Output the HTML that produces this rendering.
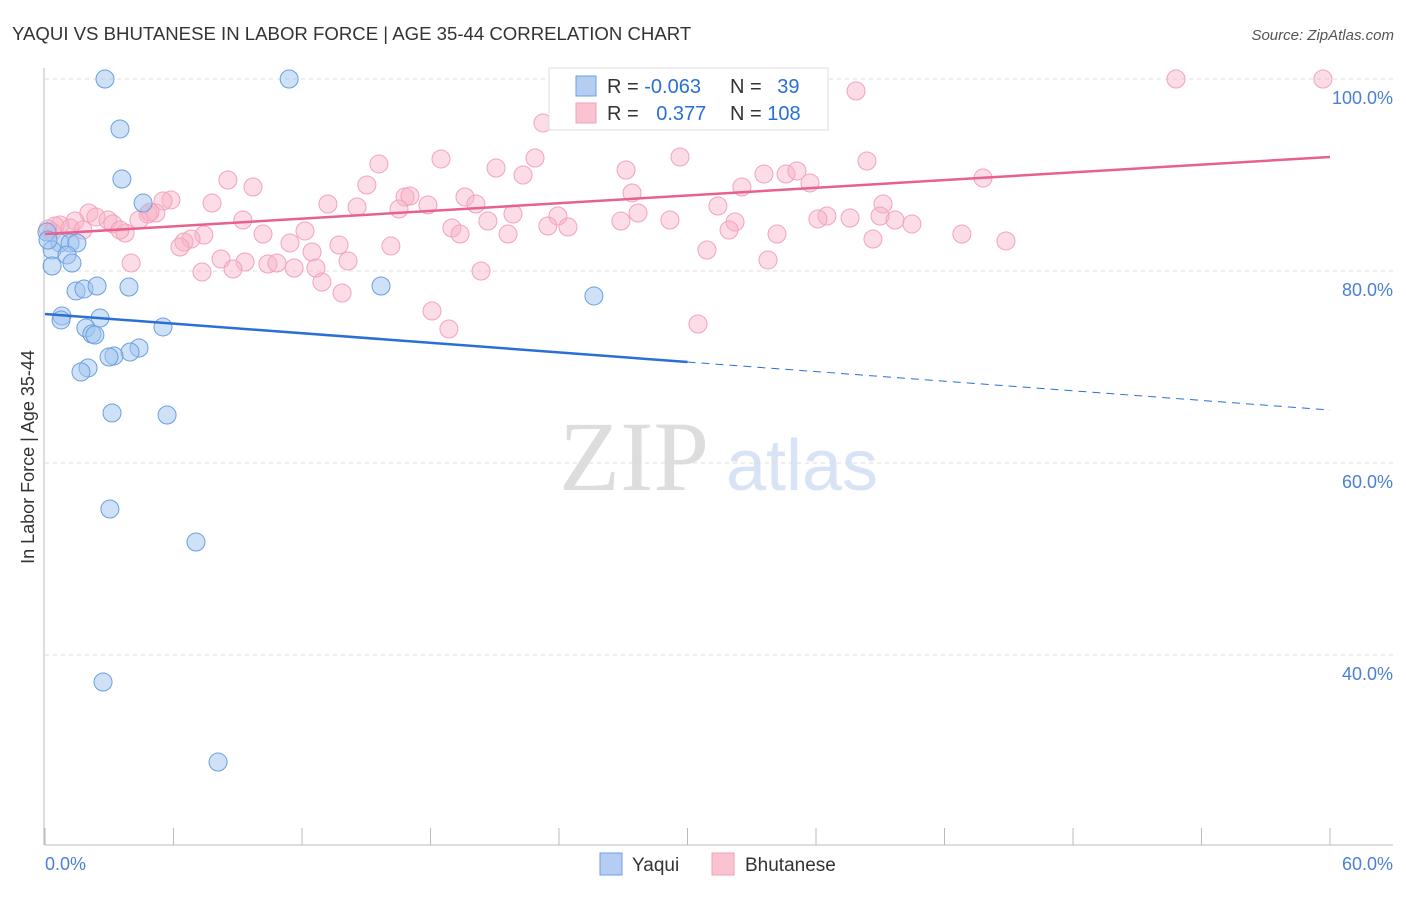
<!DOCTYPE html>
<html><head><meta charset="utf-8"><style>
body{margin:0;background:#fff;font-family:"Liberation Sans",sans-serif;}
</style></head><body>
<svg id="chart" width="1406" height="892" xmlns="http://www.w3.org/2000/svg" font-family="Liberation Sans, sans-serif">
<text x="12" y="40" font-size="18.6" fill="#333">YAQUI VS BHUTANESE IN LABOR FORCE | AGE 35-44 CORRELATION CHART</text>
<text x="1394" y="40" font-size="15" fill="#555" font-style="italic" text-anchor="end">Source: ZipAtlas.com</text>
<text x="34" y="457" font-size="18" fill="#333" text-anchor="middle" transform="rotate(-90 34 457)">In Labor Force | Age 35-44</text>
<text x="634" y="490" font-size="100" fill="#ddd" text-anchor="middle" style="font-family:'Liberation Serif',serif">ZIP</text>
<text x="802" y="490" font-size="72" fill="#d8e4f5" text-anchor="middle">atlas</text>
<g id="grid"></g><g id="axes"></g><g id="pts"></g><g id="trends"></g>
<g>
<rect x="549" y="68" width="279" height="62" fill="#fff" stroke="#ddd"/>
<rect x="576" y="76" width="20" height="20" fill="#b5cdf3" stroke="#6a9fe0"/>
<rect x="576" y="103" width="20" height="20" fill="#f9c3d2" stroke="#f0a0b8"/>
<text x="607" y="93" font-size="20" fill="#333">R = <tspan fill="#2a6fd6">-0.063</tspan></text>
<text x="730" y="93" font-size="20" fill="#333">N = <tspan fill="#2a6fd6" dx="10">39</tspan></text>
<text x="607" y="120" font-size="20" fill="#333">R = <tspan fill="#2a6fd6" dx="12">0.377</tspan></text>
<text x="730" y="120" font-size="20" fill="#333">N = <tspan fill="#2a6fd6">108</tspan></text>
</g>
<g>
<rect x="600" y="853" width="22" height="22" fill="#b5cdf3" stroke="#6a9fe0"/>
<text x="632" y="871" font-size="19" fill="#333">Yaqui</text>
<rect x="712" y="853" width="22" height="22" fill="#f9c3d2" stroke="#f0a0b8"/>
<text x="745" y="871" font-size="19" fill="#333">Bhutanese</text>
</g>
</svg>
<script>
const yaquiX=[2.80,11.40,3.50,3.59,4.58,0.09,0.70,1.17,1.49,0.33,1.03,1.26,0.33,1.45,1.82,2.43,3.92,0.79,0.75,2.57,5.51,1.91,2.19,2.33,4.39,3.97,3.22,2.99,2.01,1.68,3.13,5.70,3.03,7.05,2.71,8.08,15.69,25.63,0.14];
const yaquiY=[100,100,94.79,89.58,87.08,84.06,82.92,82.92,82.92,82.19,81.67,80.83,80.52,77.92,78.13,78.44,78.33,75.31,74.90,75.10,74.17,74.06,73.44,73.33,71.98,71.56,71.15,71.04,69.90,69.48,65.21,65.00,55.21,51.77,37.19,28.85,78.44,77.40,83.23];
const bhutX=[52.81,59.67,37.87,23.25,25.35,18.49,15.59,22.88,29.65,38.38,21.06,27.13,22.32,33.57,34.60,35.11,43.80,35.72,8.54,9.71,15.03,32.54,27.41,16.81,17.04,19.61,5.88,5.51,7.80,13.21,14.57,17.88,16.53,20.12,27.69,31.42,39.13,2.05,2.38,1.40,2.94,4.81,5.18,21.85,23.95,4.39,9.24,20.68,29.18,36.51,37.59,38.99,36.09,39.69,40.48,32.22,26.89,23.48,24.42,0.70,1.17,0.47,0.33,3.17,3.74,19.00,19.38,21.62,12.14,10.18,7.42,31.94,34.18,38.66,42.81,44.87,6.82,6.49,6.30,11.44,13.73,12.47,16.15,30.91,8.22,9.34,10.41,10.83,14.15,33.76,4.02,7.33,8.78,11.63,12.65,20.36,12.93,13.87,18.07,18.86,30.49,1.77,3.50,4.90,0.14];
const bhutY=[100,100,98.75,95.42,99.90,91.67,91.15,91.77,91.88,91.46,90.73,90.52,90.00,90.10,90.10,90.42,89.69,89.17,89.48,88.75,88.96,88.75,88.13,87.71,87.81,87.71,87.40,87.29,87.08,86.98,86.67,86.88,86.46,86.98,86.04,86.77,86.98,86.04,85.63,85.21,85.31,85.94,86.04,85.94,85.73,85.31,85.31,85.21,85.31,85.73,85.52,85.73,85.42,85.31,84.90,85.10,85.21,84.69,84.58,84.79,84.48,84.69,84.06,84.90,83.96,84.48,83.85,83.85,84.17,83.85,83.75,84.27,83.85,83.33,83.85,83.13,83.33,83.02,82.50,82.92,82.71,81.98,82.60,82.19,81.25,80.94,80.73,80.83,81.04,81.15,80.83,79.90,80.21,80.31,80.31,80.00,78.85,77.71,75.83,73.96,74.48,84.27,84.27,86.15,84.38];
const yTicks=[100,80,60,40];
const xTickVals=[0,6,12,18,24,30,36,42,48,54,60];
const yaquiTrend=[75.52,65.52];
const bhutTrend=[83.85,91.88];
const NS='http://www.w3.org/2000/svg';
const X=v=>45+v/60*1285;
const Y=v=>79+(100-v)/20*192;
function mk(tag,attrs,parent){const e=document.createElementNS(NS,tag);for(const k in attrs)e.setAttribute(k,attrs[k]);parent.appendChild(e);return e;}
const grid=document.getElementById('grid'),axes=document.getElementById('axes'),pts=document.getElementById('pts'),tr=document.getElementById('trends');
yTicks.forEach(t=>{
 const l=mk('line',{x1:45,x2:1393,y1:Y(t),y2:Y(t),stroke:'#ddd','stroke-dasharray':'4,4'},grid);
 
 
 const tx=mk('text',{x:1393,y:Y(t)+25,'font-size':18,fill:'#4a7fd4','text-anchor':'end'},grid);
 tx.textContent=t.toFixed(1)+'%';
 
 
});
const xa=mk('line',{x1:45,x2:1393,y1:845,y2:845,stroke:'#bbb'},axes);


const ya=mk('line',{x1:44,x2:44,y1:68,y2:845,stroke:'#bbb'},axes);


xTickVals.forEach(t=>{
 const l=mk('line',{x1:X(t),x2:X(t),y1:828,y2:845,stroke:'#bbb'},axes);
 
 
});
[[0,'start'],[60,'end']].forEach(([t,a])=>{
 const tx=mk('text',{x:t===0?45:1393,y:870,'font-size':18,fill:'#4a7fd4','text-anchor':a},axes);
 tx.textContent=t.toFixed(1)+'%';
 
 
});
bhutX.forEach((v,i)=>{
 const c=mk('circle',{cx:X(v),cy:Y(bhutY[i]),r:9,fill:'rgba(248,178,200,0.45)',stroke:'#f2a3bb','stroke-width':1},pts);
 
 
});
yaquiX.forEach((v,i)=>{
 const c=mk('circle',{cx:X(v),cy:Y(yaquiY[i]),r:9,fill:'rgba(160,195,240,0.5)',stroke:'#6a9fe0','stroke-width':1},pts);
 
 
});
const bt=mk('line',{x1:X(0),y1:Y(bhutTrend[0]),x2:X(60),y2:Y(bhutTrend[1]),stroke:'#e8608c','stroke-width':2.5},tr);


const ym=yaquiTrend[0]+(yaquiTrend[1]-yaquiTrend[0])*0.5;
const yt=mk('line',{x1:X(0),y1:Y(yaquiTrend[0]),x2:X(30),y2:Y(ym),stroke:'#2a6fd6','stroke-width':2.5},tr);


const yd=mk('line',{x1:X(30),y1:Y(ym),x2:X(60),y2:Y(yaquiTrend[1]),stroke:'#2a6fd6','stroke-width':1,'stroke-dasharray':'8,6'},tr);


</script>
</body></html>
